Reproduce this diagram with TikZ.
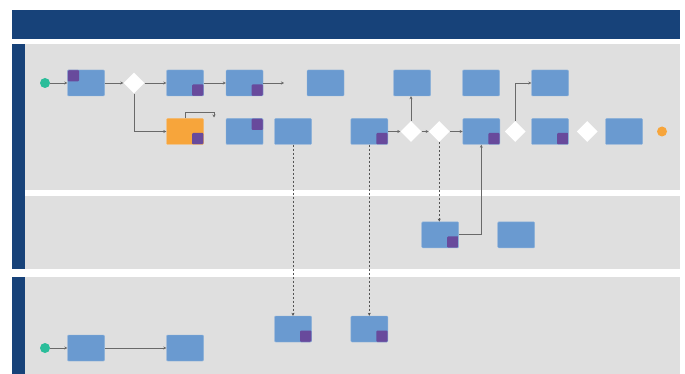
\documentclass[tikz,border=0pt]{standalone}
\definecolor{headblue}{RGB}{23, 66, 121}
\definecolor{lanegray}{RGB}{223, 223, 223}
\definecolor{taskblue}{RGB}{106, 154, 208}
\definecolor{taskedge}{RGB}{140, 178, 220}
\definecolor{flagpurple}{RGB}{104, 74, 156}
\definecolor{taskorange}{RGB}{247, 165, 59}
\definecolor{startgreen}{RGB}{43, 189, 154}
\definecolor{flowgray}{RGB}{105, 105, 105}
\usepackage{tikz}
\usetikzlibrary{shapes.geometric, arrows.meta, calc}

\begin{document}
\begin{tikzpicture}[x=1pt, y=-1pt,
  task/.style={draw=taskedge, fill=taskblue, rounded corners=1pt, minimum width=37pt, minimum height=26pt, inner sep=0pt},
  flag br/.style={path picture={\fill[flagpurple, rounded corners=1pt] ([xshift=-11.5pt, yshift=11.5pt]path picture bounding box.south east) rectangle (path picture bounding box.south east);}},
  flag tr/.style={path picture={\fill[flagpurple, rounded corners=1pt] ([xshift=-11.5pt, yshift=-11.5pt]path picture bounding box.north east) rectangle (path picture bounding box.north east);}},
  flag tl/.style={path picture={\fill[flagpurple, rounded corners=1pt] ([xshift=11.5pt, yshift=-11.5pt]path picture bounding box.north west) rectangle (path picture bounding box.north west);}},
  gate/.style={diamond, fill=white, minimum width=21pt, minimum height=21pt, inner sep=0pt},
  start/.style={circle, fill=startgreen, minimum size=10pt, inner sep=0pt},
  finish/.style={circle, fill=taskorange, minimum size=10pt, inner sep=0pt},
  flow/.style={-{Stealth[length=3pt, width=3pt]}, flowgray, line width=0.9pt},
  link/.style={-{Stealth[length=3pt, width=3pt]}, flowgray!80!black, line width=0.8pt, dash pattern=on 2pt off 2pt}]
  \useasboundingbox (0,0) rectangle (685,374);

  % Lanes
  \fill[headblue] (12,10) rectangle (680,39);
  \fill[lanegray] (25,44) rectangle (680,190);
  \fill[lanegray] (25,196) rectangle (680,269);
  \fill[lanegray] (25,277) rectangle (680,374);
  \fill[headblue] (12,44) rectangle (25,269);
  \fill[headblue] (12,277) rectangle (25,374);

  % Upper lane, first row
  \node[start] (s1) at (45,83) {};
  \node[task, flag tl] (t1) at (86,83) {};
  \node[gate] (g1) at (134,83) {};
  \node[task, flag br] (t2) at (185,83) {};
  \node[task, flag br] (t3) at (244.5,83) {};
  \coordinate (loose1) at (284,83);
  \node[task] (t4) at (325.5,83) {};
  \node[task] (t5) at (412,83) {};
  \node[task] (t6) at (481,83) {};
  \node[task] (t7) at (550,83) {};

  % Upper lane, second row
  \node[task, draw=taskorange!75!white, fill=taskorange, flag br] (o1) at (185,131.5) {};
  \coordinate (loose2) at (214,117.5);
  \node[task, flag tr] (t8) at (244.5,131.5) {};
  \node[task] (t9) at (293,131.5) {};
  \node[task, flag br] (t10) at (369.3,131.5) {};
  \node[gate] (g2) at (411,131.5) {};
  \node[gate] (g3) at (439.3,131.5) {};
  \node[task, flag br] (t11) at (481.3,131.5) {};
  \node[gate] (g4) at (515.3,131.5) {};
  \node[task, flag br] (t12) at (550,131.5) {};
  \node[gate] (g5) at (587.3,131.5) {};
  \node[task] (t13) at (624,131.5) {};
  \node[finish] (e1) at (662,131.5) {};

  % Middle lane
  \node[task, flag br] (t14) at (440.2,234.8) {};
  \node[task] (t15) at (516.2,234.8) {};

  % Lower lane
  \node[start] (s2) at (45,348) {};
  \node[task] (t16) at (86,348) {};
  \node[task] (t17) at (185,348) {};
  \node[task, flag br] (t18) at (293,329) {};
  \node[task, flag br] (t19) at (369.3,329) {};

  % Flows
  \draw[flow] (s1) -- (t1);
  \draw[flow] (t1) -- (g1);
  \draw[flow] (g1) -- (t2);
  \draw[flow] (g1) |- (o1);
  \draw[flow] (t2) -- (t3);
  \draw[flow] (t3) -- (loose1);
  \draw[flow] (o1.north) -- ++(0,-6) -| (loose2);
  \draw[flow] (t10) -- (g2);
  \draw[flow] (g2) -- (g2 |- t5.south);
  \draw[flow] (g2) -- (g3);
  \draw[flow] (g3) -- (t11);
  \draw[flow] (t14) -| (t11);
  \draw[flow] (g4) |- (t7);
  \draw[flow] (s2) -- (t16);
  \draw[flow] (t16) -- (t17);

  % Message links
  \draw[link] (t9) -- (t18);
  \draw[link] (t10) -- (t19);
  \draw[link] (g3) -- (g3 |- t14.north);
\end{tikzpicture}
\end{document}
